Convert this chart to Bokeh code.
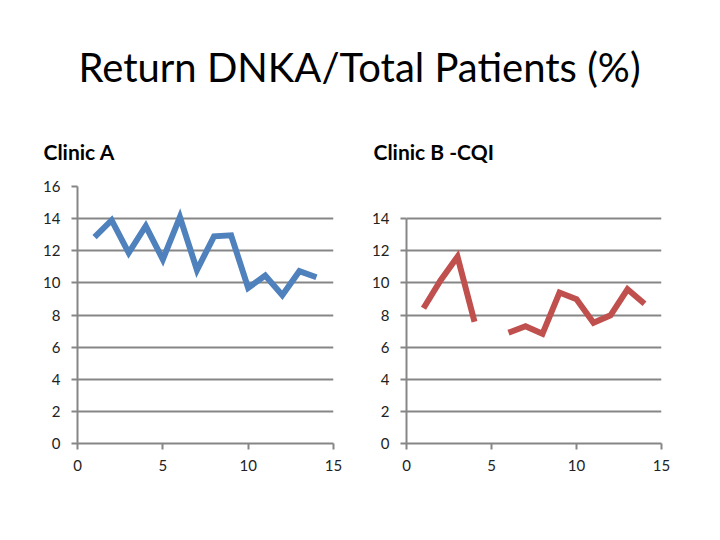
from bokeh.plotting import figure
from bokeh.models import Range1d, FixedTicker
from bokeh.layouts import column, row
from bokeh.embed import file_html
from bokeh.resources import INLINE
from bokeh.core.properties import value

main_title = "Return DNKA/Total Patients (%)"
title_a = "Clinic A"
title_b = "Clinic B -CQI"

x_a = [1, 2, 3, 4, 5, 6, 7, 8, 9, 10, 11, 12, 13, 14]
y_a = [12.85, 13.9, 11.87, 13.54, 11.46, 14.1, 10.8, 12.9, 12.96, 9.69, 10.46, 9.23, 10.73, 10.35]

x_b = [1, 2, 3, 4, 5, 6, 7, 8, 9, 10, 11, 12, 13, 14]
y_b = [8.42, 10.15, 11.63, 7.58, float("nan"), 6.9, 7.3, 6.83, 9.4, 8.98, 7.52, 7.98, 9.6, 8.7]

x_ticks = [0, 5, 10, 15]
y_ticks_a = [0, 2, 4, 6, 8, 10, 12, 14, 16]
y_ticks_b = [0, 2, 4, 6, 8, 10, 12, 14]

FONT = "Lato"
GREY = "#868686"
BLUE = "#4F81BD"
RED = "#C0504D"

# header figure with titles
HW, HH = 720, 166
head = figure(width=HW, height=HH, x_range=Range1d(0, HW), y_range=Range1d(HH, 0),
              output_backend="svg", toolbar_location=None, min_border=0)
head.axis.visible = False
head.grid.visible = False
head.outline_line_color = None
head.text(x=[359], y=[66], text=[main_title], text_font=value(FONT),
          text_font_size="40px", text_align="center", text_baseline="middle", text_color="black")
head.text(x=[43, 373], y=[151, 151], text=[title_a, title_b], text_font=value(FONT),
          text_font_size="21px", text_font_style="bold", text_align="left",
          text_baseline="middle", text_color="black")


def make_chart(xs, ys, ytop, yticks, color, width, left, right):
    p = figure(width=width, height=370, x_range=Range1d(0, 15), y_range=Range1d(0, 16),
               output_backend="svg", toolbar_location=None,
               min_border_left=left, min_border_right=right,
               min_border_top=20, min_border_bottom=93)
    p.outline_line_color = None
    p.xgrid.visible = False
    p.ygrid.grid_line_color = GREY
    p.ygrid.grid_line_width = 2
    p.ygrid.ticker = FixedTicker(ticks=yticks)
    p.xaxis.ticker = FixedTicker(ticks=x_ticks)
    p.yaxis.ticker = FixedTicker(ticks=yticks)
    p.yaxis.bounds = (0, ytop)
    for ax in (p.xaxis, p.yaxis):
        ax.axis_line_color = GREY
        ax.axis_line_width = 2
        ax.major_tick_line_color = GREY
        ax.major_tick_line_width = 2
        ax.major_tick_out = 6
        ax.major_tick_in = 0
        ax.minor_tick_line_color = None
        ax.major_label_text_font = FONT
        ax.major_label_text_font_size = "15px"
        ax.major_label_text_color = "#222222"
    p.xaxis.major_label_standoff = 10
    p.yaxis.major_label_standoff = 11
    p.line(xs, ys, line_color=color, line_width=6, line_join="miter")
    return p


fig_a = make_chart(x_a, y_a, 16, y_ticks_a, BLUE, 369, 77, 36)
fig_b = make_chart(x_b, y_b, 14, y_ticks_b, RED, 351, 36, 59)

layout = column(head, row(fig_a, fig_b, spacing=0), spacing=0)
open("out.html", "w").write(file_html(layout, INLINE))
